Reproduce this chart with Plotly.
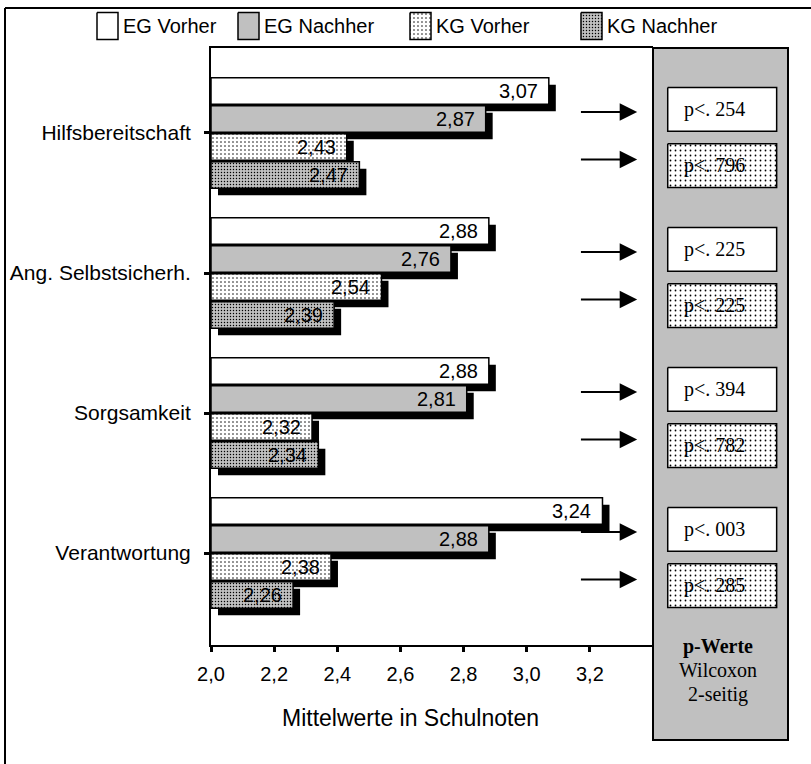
import plotly.graph_objects as go

# ---------------- data ----------------
categories = ["Hilfsbereitschaft", "Ang. Selbstsicherh.", "Sorgsamkeit", "Verantwortung"]
series_names = ["EG Vorher", "EG Nachher", "KG Vorher", "KG Nachher"]
eg_vorher = [3.07, 2.88, 2.88, 3.24]
eg_nachher = [2.87, 2.76, 2.81, 2.88]
kg_vorher = [2.43, 2.54, 2.32, 2.38]
kg_nachher = [2.47, 2.39, 2.34, 2.26]
p_eg = ["254", "225", "394", "003"]
p_kg = ["796", "225", "782", "285"]
x_tick_vals = [2.0, 2.2, 2.4, 2.6, 2.8, 3.0, 3.2]
x_tick_text = ["2,0", "2,2", "2,4", "2,6", "2,8", "3,0", "3,2"]
axis_title = "Mittelwerte in Schulnoten"
panel_lines = ["<b>p-Werte</b>", "Wilcoxon", "2-seitig"]

series_values = [eg_vorher, eg_nachher, kg_vorher, kg_nachher]

# ---------------- layout geometry (pixels) ----------------
W, H = 811, 764
PL, PR, PT, PB = 211, 653, 48, 645      # plot area
PANEL_R, PANEL_B = 788, 740             # grey p-value panel
X0, X1 = 2.0, 3.4
Y_TOP, Y_BOT = -0.607, 3.657
SANS = "Liberation Sans, Arial, sans-serif"
SERIF = "Liberation Serif, Times New Roman, serif"
GREY = "#c0c0c0"

px_per_x = (PR - PL) / (X1 - X0)
px_per_y = (PB - PT) / (Y_BOT - Y_TOP)
dx = 7 / px_per_x
dy = 7 / px_per_y
bar_w = 0.19
offsets = [-0.3, -0.1, 0.1, 0.3]


def pat(bg, size, sol):
    return dict(shape=".", fgcolor="black", bgcolor=bg, size=size, solidity=sol, fillmode="replace")


styles = [
    dict(color="white", pattern=None),
    dict(color=GREY, pattern=None),
    dict(color="white", pattern=pat("white", 4, 0.12)),
    dict(color=GREY, pattern=pat(GREY, 3, 0.18)),
]

fig = go.Figure()

# bars with drop shadows
for k, (name, vals) in enumerate(zip(series_names, series_values)):
    ys = [i + offsets[k] for i in range(len(categories))]
    fig.add_trace(go.Bar(
        orientation="h", x=[v - X0 for v in vals], base=X0 + dx,
        y=[y + dy for y in ys], width=bar_w,
        marker=dict(color="black", line=dict(width=0)),
        showlegend=False, hoverinfo="skip"))
    mk = dict(color=styles[k]["color"], line=dict(color="black", width=1.5))
    if styles[k]["pattern"]:
        mk["pattern"] = styles[k]["pattern"]
    fig.add_trace(go.Bar(
        orientation="h", x=[v - X0 for v in vals], base=X0, y=ys, width=bar_w,
        marker=mk, name=name, showlegend=False))

annotations = []
# value labels
for k, vals in enumerate(series_values):
    for i, v in enumerate(vals):
        annotations.append(dict(
            x=v, y=i + offsets[k], xref="x", yref="y", text=f"{v:.2f}".replace(".", ","),
            xanchor="right", yanchor="middle", xshift=-9, showarrow=False,
            font=dict(family=SANS, size=20, color="black")))

# arrows
for i in range(len(categories)):
    for off in (-0.15, 0.19):
        annotations.append(dict(
            x=3.35, y=i + off, ax=3.167, ay=i + off, xref="x", yref="y",
            axref="x", ayref="y", text="", showarrow=True, arrowhead=2,
            arrowwidth=2, arrowsize=1.75, arrowcolor="black"))

# p-value boxes (in panel axis x2, sharing y)
bx0, bx1 = 0.109, 0.916


def boxes(y0s, y1s):
    xs, ys = [], []
    for a, b in zip(y0s, y1s):
        xs += [bx0, bx1, bx1, bx0, bx0, None]
        ys += [a, a, b, b, a, None]
    return xs, ys


n = len(categories)
xs, ys = boxes([i - 0.325 for i in range(n)], [i - 0.012 for i in range(n)])
fig.add_trace(go.Scatter(x=xs, y=ys, xaxis="x2", yaxis="y", mode="lines", fill="toself",
                         fillcolor="white", line=dict(color="black", width=1.5),
                         showlegend=False, hoverinfo="skip"))
xs, ys = boxes([i + 0.077 for i in range(n)], [i + 0.39 for i in range(n)])
fig.add_trace(go.Scatter(x=xs, y=ys, xaxis="x2", yaxis="y", mode="lines", fill="toself",
                         fillcolor="white", fillpattern=pat("white", 5, 0.1),
                         line=dict(color="black", width=1.5),
                         showlegend=False, hoverinfo="skip"))
for i in range(n):
    annotations.append(dict(x=0.456, y=i - 0.1685, xref="x2", yref="y", text="p<. " + p_eg[i],
                            showarrow=False, font=dict(family=SERIF, size=20, color="black")))
    annotations.append(dict(x=0.456, y=i + 0.2335, xref="x2", yref="y", text="p<. " + p_kg[i],
                            showarrow=False, font=dict(family=SERIF, size=20, color="black")))

# legend (manual, axis x3/y3 in pixel units)
leg_boxes = [(97, 118), (238, 259), (410, 431), (581, 602)]
leg_fill = [("white", None), (GREY, None), ("white", pat("white", 4, 0.12)), (GREY, pat(GREY, 3, 0.18))]
for (a, b), (col, pt), name in zip(leg_boxes, leg_fill, series_names):
    tr = go.Scatter(x=[a, b, b, a, a], y=[12.5, 12.5, 39.5, 39.5, 12.5], xaxis="x3", yaxis="y3",
                    mode="lines", fill="toself", fillcolor=col,
                    line=dict(color="black", width=1.5), showlegend=False, hoverinfo="skip")
    if pt:
        tr.fillpattern = pt
    fig.add_trace(tr)
    annotations.append(dict(x=b + 3, y=26, xref="x3", yref="y3", text=name, xanchor="left",
                            yanchor="middle", showarrow=False,
                            font=dict(family=SANS, size=20, color="black")))

# axis title
annotations.append(dict(x=410 / W, y=1 - 718 / H, xref="paper", yref="paper", text=axis_title,
                        showarrow=False, xanchor="center", yanchor="middle",
                        font=dict(family=SANS, size=23, color="black")))
# panel text
for txt, yc in zip(panel_lines, [646, 670, 694]):
    annotations.append(dict(x=718 / W, y=1 - yc / H, xref="paper", yref="paper", text=txt,
                            showarrow=False, xanchor="center", yanchor="middle",
                            font=dict(family=SERIF, size=20, color="black")))

shapes = [
    # grey panel
    dict(type="rect", xref="paper", yref="paper", x0=PR / W, x1=PANEL_R / W,
         y0=1 - PANEL_B / H, y1=1 - PT / H, fillcolor=GREY,
         line=dict(color="black", width=2), layer="below"),
    # outer frame (top and left)
    dict(type="line", xref="paper", yref="paper", x0=5 / W, x1=1, y0=1 - 8 / H, y1=1 - 8 / H,
         line=dict(color="black", width=2)),
    dict(type="line", xref="paper", yref="paper", x0=5 / W, x1=5 / W, y0=0, y1=1 - 8 / H,
         line=dict(color="black", width=2)),
]

fig.update_layout(
    width=W, height=H, margin=dict(l=0, r=0, t=0, b=0),
    paper_bgcolor="white", plot_bgcolor="white", barmode="overlay",
    showlegend=False, annotations=annotations, shapes=shapes,
    xaxis=dict(domain=[PL / W, PR / W], range=[X0, X1], tickvals=x_tick_vals, ticktext=x_tick_text,
               showline=True, linecolor="black", linewidth=2, mirror=True, ticks="outside",
               ticklen=5, tickwidth=3, tickcolor="black", showgrid=False, zeroline=False,
               ticklabelstandoff=5, tickfont=dict(family=SANS, size=20, color="black"),
               anchor="y", automargin=False),
    yaxis=dict(domain=[1 - PB / H, 1 - PT / H], range=[Y_BOT, Y_TOP],
               tickvals=list(range(len(categories))), ticktext=categories,
               showline=True, linecolor="black", linewidth=2, ticks="outside", ticklen=5,
               tickwidth=3, tickcolor="black", showgrid=False, zeroline=False,
               ticklabelstandoff=9, tickfont=dict(family=SANS, size=21, color="black"),
               anchor="x", automargin=False),
    xaxis2=dict(domain=[PR / W, PANEL_R / W], range=[0, 1], visible=False, anchor="y",
                showgrid=False, zeroline=False),
    xaxis3=dict(domain=[0, 1], range=[0, W], visible=False, anchor="y3", showgrid=False,
                zeroline=False),
    yaxis3=dict(domain=[1 - 46 / H, 1 - 8 / H], range=[46, 8], visible=False, anchor="x3",
                showgrid=False, zeroline=False),
)

fig.write_html("out.html", config={"displayModeBar": False},
               post_script="document.body.style.margin='0';document.body.style.overflow='hidden';")
